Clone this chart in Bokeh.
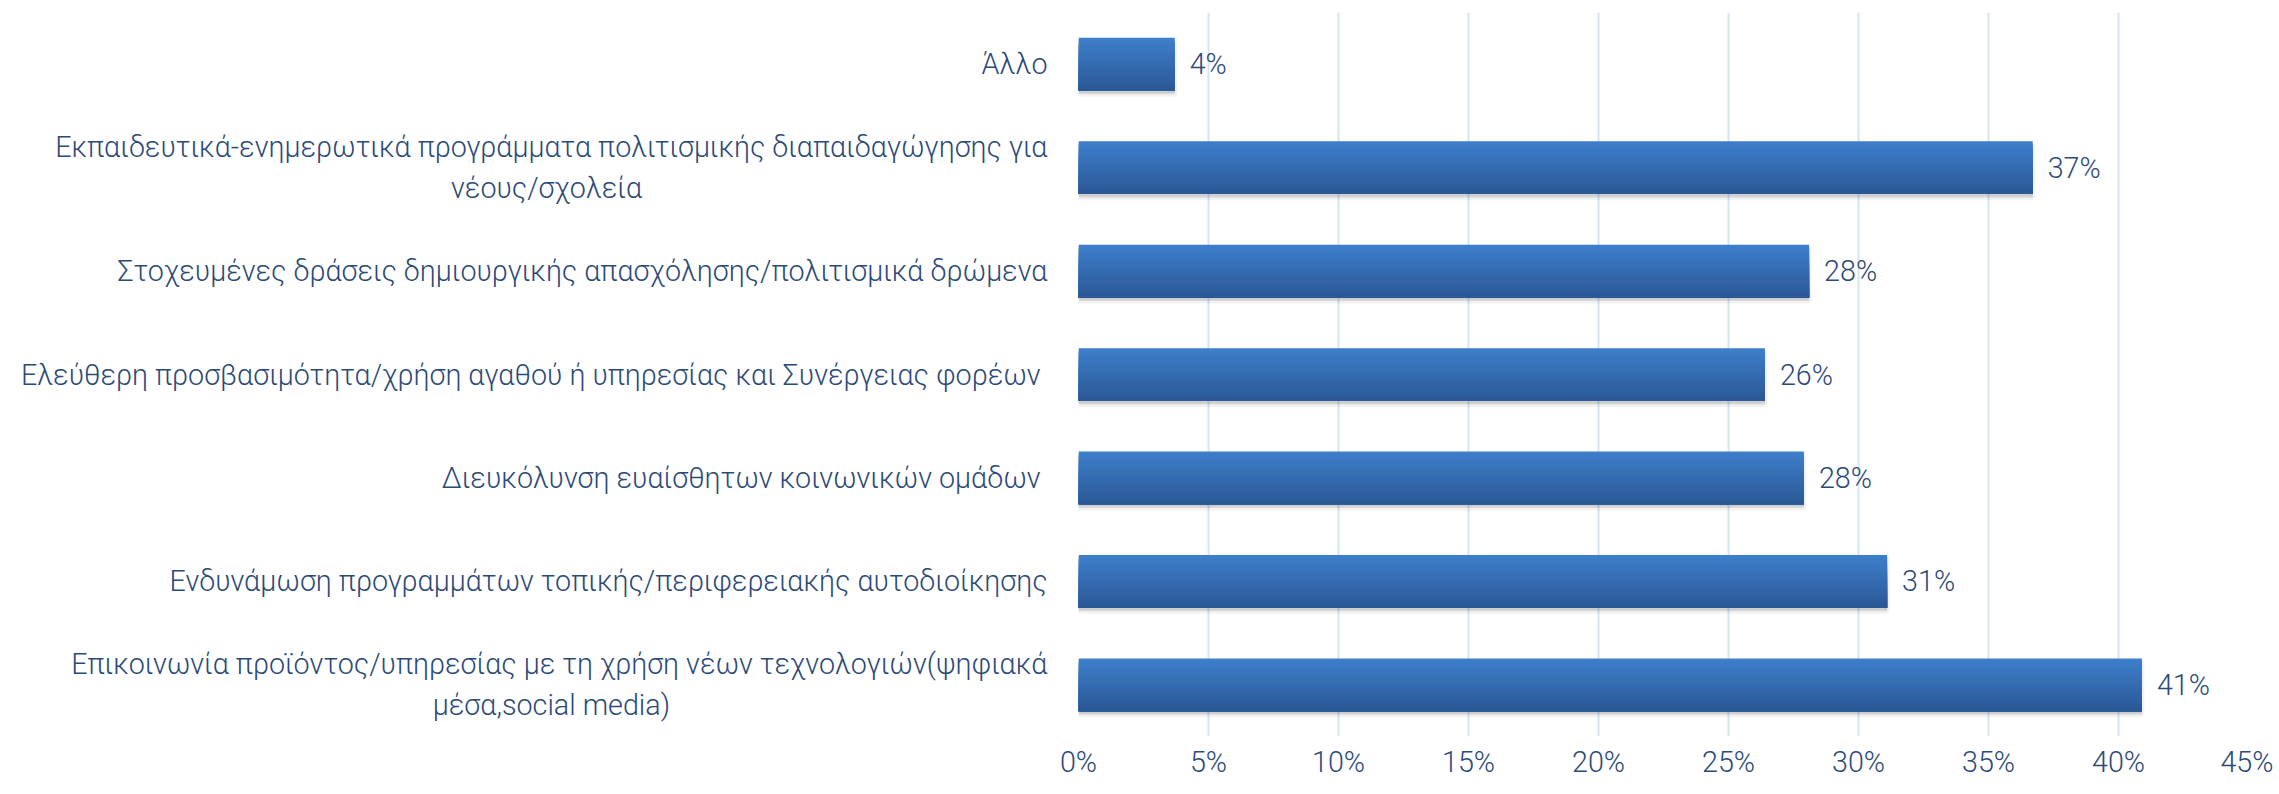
from bokeh.plotting import figure
from bokeh.models import ColumnDataSource, Range1d, FactorRange, FixedTicker, NumeralTickFormatter
from bokeh.transform import dodge
from bokeh.core.properties import value
from bokeh.embed import file_html
from bokeh.resources import INLINE

NB = "\u00a0"
# categories from top to bottom as in the chart
categories = [
    "Άλλο",
    "Εκπαιδευτικά-ενημερωτικά προγράμματα πολιτισμικής διαπαιδαγώγησης για\nνέους/σχολεία" + NB * 58,
    "Στοχευμένες δράσεις δημιουργικής απασχόλησης/πολιτισμικά δρώμενα",
    "Ελεύθερη προσβασιμότητα/χρήση αγαθού ή υπηρεσίας και Συνέργειας φορέων ",
    "Διευκόλυνση ευαίσθητων κοινωνικών ομάδων ",
    "Ενδυνάμωση προγραμμάτων τοπικής/περιφερειακής αυτοδιοίκησης",
    "Επικοινωνία προϊόντος/υπηρεσίας με τη χρήση νέων τεχνολογιών(ψηφιακά\nμέσα,social media)" + NB * 54,
]
shares = [0.037, 0.367, 0.281, 0.264, 0.279, 0.311, 0.409]
tick_values = [0, 0.05, 0.10, 0.15, 0.20, 0.25, 0.30, 0.35, 0.40, 0.45]

labels = [f"{round(v * 100)}%" for v in shares]
src = ColumnDataSource(dict(cat=categories, val=shares, lab=labels))

FONT = "'Roboto Light', Roboto"
FS = "28.7px"
TXT = "#2C4A78"

p = figure(
    width=2273, height=781,
    y_range=FactorRange(*categories[::-1]),
    x_range=Range1d(0, 0.45),
    output_backend="svg", toolbar_location=None,
    min_border_left=1078, min_border_right=25, min_border_top=12, min_border_bottom=42,
)
p.outline_line_color = None
p.background_fill_color = "white"

BAR_H = 0.51
# soft shadow
p.hbar(y=dodge("cat", -0.035, range=p.y_range), right="val", left=0, height=BAR_H, source=src,
       fill_color="black", fill_alpha=0.10, line_color="black", line_alpha=0.05, line_width=5)
p.hbar(y=dodge("cat", -0.02, range=p.y_range), right="val", left=0, height=BAR_H, source=src,
       fill_color="black", fill_alpha=0.08, line_color=None)

# vertical gradient: nested layers anchored at the bar bottom
top = (61, 126, 203)
bot = (43, 89, 150)
N = 16
sh = BAR_H / N
for i in range(N):
    t = i / (N - 1)
    c = tuple(int(round(top[k] + (bot[k] - top[k]) * t)) for k in range(3))
    h = BAR_H - i * sh
    off = -BAR_H / 2 + h / 2
    p.hbar(y=dodge("cat", off, range=p.y_range), right="val", left=0, height=h,
           source=src, fill_color="#%02x%02x%02x" % c, line_color=None)

p.text(x="val", y="cat", text="lab", source=src, x_offset=15,
       text_align="left", text_baseline="middle",
       text_font=value(FONT), text_font_size=FS, text_color=TXT)

# axes
p.xaxis.ticker = FixedTicker(ticks=tick_values)
p.xaxis.formatter = NumeralTickFormatter(format="0%")
p.xaxis.axis_line_color = None
p.xaxis.major_tick_line_color = None
p.xaxis.minor_tick_line_color = None
p.xaxis.major_tick_out = 0
p.xaxis.major_tick_in = 0
p.xaxis.major_label_standoff = 8
p.xaxis.major_label_text_font = FONT
p.xaxis.major_label_text_font_size = FS
p.xaxis.major_label_text_color = TXT

p.yaxis.axis_line_color = None
p.yaxis.major_tick_line_color = None
p.yaxis.minor_tick_line_color = None
p.yaxis.major_tick_out = 0
p.yaxis.major_tick_in = 0
p.yaxis.major_label_standoff = 31
p.yaxis.major_label_text_font = FONT
p.yaxis.major_label_text_font_size = FS
p.yaxis.major_label_text_color = TXT

p.xgrid.ticker = FixedTicker(ticks=tick_values)
p.xgrid.grid_line_color = "#D6E3F3"
p.xgrid.grid_line_width = 2
p.ygrid.grid_line_color = None

open("out.html", "w").write(file_html(p, INLINE))
